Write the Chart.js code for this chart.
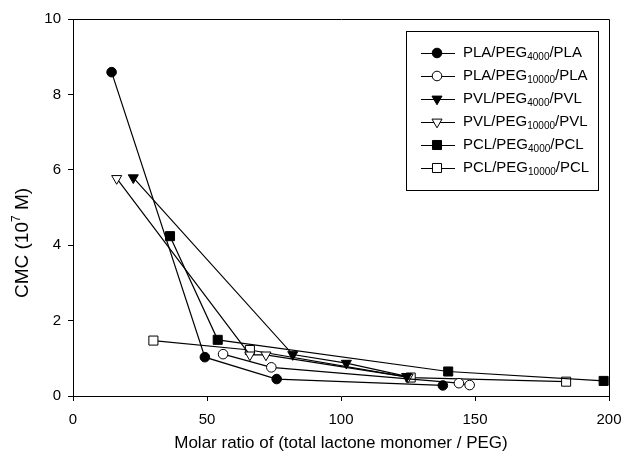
<!DOCTYPE html>
<html>
<head>
<meta charset="utf-8">
<title>CMC vs molar ratio</title>
<script src="https://cdn.jsdelivr.net/npm/chart.js@4.4.1/dist/chart.umd.min.js"></script>
<style>
    html, body { margin: 0; padding: 0; background: #fff; }
    #wrap { width: 624px; height: 457px; }
</style>
</head>
<body>
<div id="wrap"><canvas id="cmcChart" width="624" height="457"></canvas></div>
<script>
// Data: x = molar ratio, y = CMC (10^7 M)
const plaPeg4000X = [14.4, 49.2, 76, 138];
const plaPeg4000Y = [8.59, 1.03, 0.45, 0.28];
const plaPeg10000X = [56, 74, 144, 148];
const plaPeg10000Y = [1.11, 0.76, 0.34, 0.29];
const pvlPeg4000X = [22.5, 82, 102, 124.5];
const pvlPeg4000Y = [5.79, 1.10, 0.87, 0.52];
const pvlPeg10000X = [16.3, 66, 72, 125];
const pvlPeg10000Y = [5.77, 1.09, 1.09, 0.50];
const pclPeg4000X = [36.2, 54, 140, 198];
const pclPeg4000Y = [4.24, 1.49, 0.65, 0.40];
const pclPeg10000X = [30, 66, 126, 184];
const pclPeg10000Y = [1.47, 1.22, 0.49, 0.38];

const seriesLabels = ['PLA/PEG4000/PLA', 'PLA/PEG10000/PLA', 'PVL/PEG4000/PVL',
                      'PVL/PEG10000/PVL', 'PCL/PEG4000/PCL', 'PCL/PEG10000/PCL'];
const xTickValues = [0, 50, 100, 150, 200];
const yTickValues = [0, 2, 4, 6, 8, 10];

const FONT = "'Liberation Sans', Arial, sans-serif";

function toPoints(xs, ys) {
    return xs.map((x, i) => ({ x: x, y: ys[i] }));
}

function makeSet(label, xs, ys, style, filled, rotation, radius) {
    return {
        label: label,
        data: toPoints(xs, ys),
        borderColor: '#000',
        borderWidth: 1.2,
        pointStyle: style,
        pointRotation: rotation,
        pointRadius: radius,
        pointBorderWidth: 1,
        pointBorderColor: '#000',
        pointBackgroundColor: filled ? '#000' : '#fff',
        showLine: true,
        fill: false,
        tension: 0
    };
}

const datasets = [
    makeSet(seriesLabels[0], plaPeg4000X, plaPeg4000Y, 'circle', true, 0, 4.8),
    makeSet(seriesLabels[1], plaPeg10000X, plaPeg10000Y, 'circle', false, 0, 4.8),
    makeSet(seriesLabels[2], pvlPeg4000X, pvlPeg4000Y, 'triangle', true, 180, 5.8),
    makeSet(seriesLabels[3], pvlPeg10000X, pvlPeg10000Y, 'triangle', false, 180, 5.8),
    makeSet(seriesLabels[4], pclPeg4000X, pclPeg4000Y, 'rect', true, 0, 6.4),
    makeSet(seriesLabels[5], pclPeg10000X, pclPeg10000Y, 'rect', false, 0, 6.4)
];

// top + right frame, y title with superscript
const framePlugin = {
    id: 'frame',
    afterDraw(chart) {
        const ctx = chart.ctx;
        const a = chart.chartArea;
        ctx.save();
        ctx.strokeStyle = '#000';
        ctx.lineWidth = 1;
        ctx.beginPath();
        ctx.moveTo(Math.round(a.left) + 0.5, Math.round(a.top) + 0.5);
        ctx.lineTo(Math.round(a.right) + 0.5, Math.round(a.top) + 0.5);
        ctx.lineTo(Math.round(a.right) + 0.5, Math.round(a.bottom) + 0.5);
        ctx.stroke();

        // y axis title
        ctx.translate(23, 243);
        ctx.rotate(-Math.PI / 2);
        ctx.fillStyle = '#000';
        ctx.textBaseline = 'middle';
        const main = '19px ' + FONT, sup = '12px ' + FONT;
        const parts = [['CMC (10', main, 0], ['7', sup, -6], [' M)', main, 0]];
        let total = 0;
        parts.forEach(p => { ctx.font = p[1]; total += ctx.measureText(p[0]).width; });
        let x = -total / 2;
        parts.forEach(p => {
            ctx.font = p[1];
            ctx.fillText(p[0], x, p[2]);
            x += ctx.measureText(p[0]).width;
        });
        ctx.restore();
    }
};

// boxed legend with subscripts
const legendPlugin = {
    id: 'boxLegend',
    afterDraw(chart) {
        const ctx = chart.ctx;
        const box = { x: 406, y: 31, w: 192, h: 159 };
        ctx.save();
        ctx.fillStyle = '#fff';
        ctx.fillRect(box.x, box.y, box.w, box.h);
        ctx.strokeStyle = '#000';
        ctx.lineWidth = 1;
        ctx.strokeRect(box.x + 0.5, box.y + 0.5, box.w, box.h);

        chart.data.datasets.forEach((ds, i) => {
            const y = 53 + i * 23;
            ctx.strokeStyle = '#000';
            ctx.lineWidth = 1;
            ctx.beginPath();
            ctx.moveTo(421, y + 0.5);
            ctx.lineTo(455, y + 0.5);
            ctx.stroke();

            ctx.fillStyle = ds.pointBackgroundColor;
            ctx.strokeStyle = '#000';
            Chart.helpers.drawPoint(ctx, {
                pointStyle: ds.pointStyle,
                rotation: ds.pointRotation,
                radius: ds.pointRadius,
                borderWidth: 1
            }, 437, y);

            const m = ds.label.match(/^(.*PEG)(\d+)(\/.*)$/);
            const parts = [[m[1], '15px ' + FONT, 0], [m[2], '10px ' + FONT, 4], [m[3], '15px ' + FONT, 0]];
            ctx.fillStyle = '#000';
            ctx.textBaseline = 'middle';
            let x = 463;
            parts.forEach(p => {
                ctx.font = p[1];
                ctx.fillText(p[0], x, y + p[2]);
                x += ctx.measureText(p[0]).width;
            });
        });
        ctx.restore();
    }
};

const ctx = document.getElementById('cmcChart').getContext('2d');
const cmcChart = new Chart(ctx, {
    type: 'scatter',
    data: { datasets: datasets },
    options: {
        responsive: false,
        animation: false,
        devicePixelRatio: 1,
        events: [],
        layout: { padding: { top: 19, right: 15, left: 0, bottom: 0 } },
        scales: {
            x: {
                type: 'linear',
                min: 0,
                max: 200,
                afterBuildTicks: s => { s.ticks = xTickValues.map(v => ({ value: v })); },
                afterFit: s => { s.height = 61; s.paddingLeft = 0; s.paddingRight = 0; },
                ticks: { color: '#000', font: { family: FONT, size: 15 }, padding: 10 },
                grid: { drawOnChartArea: false, drawTicks: true, tickLength: 5, color: '#000', lineWidth: 1 },
                border: { color: '#000', width: 1 },
                title: {
                    display: true,
                    text: 'Molar ratio of (total lactone monomer / PEG)',
                    color: '#000',
                    font: { family: FONT, size: 17 },
                    padding: { top: 0, bottom: 3 }
                }
            },
            y: {
                type: 'linear',
                min: 0,
                max: 10,
                afterBuildTicks: s => { s.ticks = yTickValues.map(v => ({ value: v })); },
                afterFit: s => { s.width = 73; s.paddingTop = 0; s.paddingBottom = 0; },
                ticks: { color: '#000', font: { family: FONT, size: 15 }, padding: 7 },
                grid: { drawOnChartArea: false, drawTicks: true, tickLength: 5, color: '#000', lineWidth: 1 },
                border: { color: '#000', width: 1 }
            }
        },
        plugins: {
            legend: { display: false },
            tooltip: { enabled: false }
        }
    },
    plugins: [framePlugin, legendPlugin]
});
</script>
</body>
</html>
